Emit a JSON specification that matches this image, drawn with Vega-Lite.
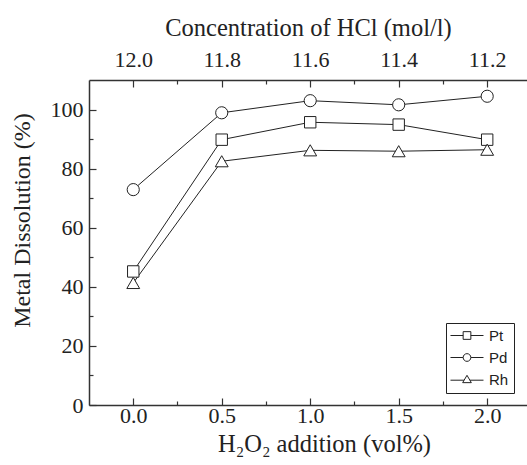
{
  "$schema": "https://vega.github.io/schema/vega-lite/v6.json",
  "width": 438,
  "height": 325,
  "autosize": {"type": "none"},
  "padding": {"left": 89, "top": 80, "right": 0, "bottom": 60},
  "background": "white",
  "config": {
    "view": {"stroke": null},
    "axis": {
      "labelFont": "Liberation Serif",
      "titleFont": "Liberation Serif",
      "labelFontSize": 22,
      "titleFontSize": 24.5,
      "titleFontWeight": "normal",
      "labelColor": "#222",
      "titleColor": "#222",
      "domainColor": "#333",
      "domainWidth": 1.5,
      "tickColor": "#333",
      "tickWidth": 1.2,
      "grid": false
    }
  },
  "data": {
    "values": [
      {"x": 0.0, "y": 45.2, "s": "Pt"},
      {"x": 0.5, "y": 89.8, "s": "Pt"},
      {"x": 1.0, "y": 95.7, "s": "Pt"},
      {"x": 1.5, "y": 94.9, "s": "Pt"},
      {"x": 2.0, "y": 89.8, "s": "Pt"},
      {"x": 0.0, "y": 72.9, "s": "Pd"},
      {"x": 0.5, "y": 98.9, "s": "Pd"},
      {"x": 1.0, "y": 103.0, "s": "Pd"},
      {"x": 1.5, "y": 101.6, "s": "Pd"},
      {"x": 2.0, "y": 104.5, "s": "Pd"},
      {"x": 0.0, "y": 41.3, "s": "Rh"},
      {"x": 0.5, "y": 82.5, "s": "Rh"},
      {"x": 1.0, "y": 86.2, "s": "Rh"},
      {"x": 1.5, "y": 85.9, "s": "Rh"},
      {"x": 2.0, "y": 86.4, "s": "Rh"}
    ]
  },
  "encoding": {
    "y": {
      "field": "y",
      "type": "quantitative",
      "scale": {"domain": [0, 110], "nice": false, "zero": false},
      "axis": {
        "title": "Metal Dissolution (%)",
        "titleFontSize": 24,
        "values": [0, 10, 20, 30, 40, 50, 60, 70, 80, 90, 100],
        "labelExpr": "datum.value % 20 === 0 ? datum.label : ''",
        "tickSize": {"condition": {"test": "datum.value % 20 === 0", "value": -7}, "value": -4},
        "labelPadding": 13,
        "titlePadding": 16,
        "titleY": 140
      }
    }
  },
  "layer": [
    {
      "mark": {"type": "line", "color": "#222", "strokeWidth": 1},
      "encoding": {
        "x": {
          "field": "x",
          "type": "quantitative",
          "scale": {"domain": [-0.25, 2.225], "nice": false, "zero": false},
          "axis": {
            "orient": "bottom",
            "title": "H₂O₂ addition (vol%)",
            "values": [0, 0.25, 0.5, 0.75, 1, 1.25, 1.5, 1.75, 2],
            "labelExpr": "datum.value % 0.5 === 0 ? format(datum.value, '.1f') : ''",
            "tickSize": {"condition": {"test": "datum.value % 0.5 === 0", "value": -7}, "value": -4},
            "labelPadding": 7,
            "titlePadding": 6,
            "titleX": 235
          }
        },
        "detail": {"field": "s"}
      }
    },
    {
      "mark": {"type": "point", "filled": false, "fill": "white", "stroke": "#222", "strokeWidth": 1, "opacity": 1},
      "encoding": {
        "x": {
          "field": "x",
          "type": "quantitative",
          "axis": {
            "orient": "top",
            "title": "Concentration of HCl (mol/l)",
            "values": [0, 0.25, 0.5, 0.75, 1, 1.25, 1.5, 1.75, 2],
            "labelExpr": "datum.value % 0.5 === 0 ? format(12 - datum.value * 0.4, '.1f') : ''",
            "tickSize": {"condition": {"test": "datum.value % 0.5 === 0", "value": -7}, "value": -4},
            "labelPadding": 16,
            "titlePadding": 8
          }
        },
        "shape": {
          "field": "s",
          "type": "nominal",
          "scale": {"domain": ["Pt", "Pd", "Rh"], "range": ["square", "circle", "triangle-up"]},
          "legend": null
        },
        "size": {
          "field": "s",
          "type": "nominal",
          "scale": {"domain": ["Pt", "Pd", "Rh"], "range": [130, 165, 160]},
          "legend": null
        }
      }
    },
    {
      "mark": {"type": "point", "opacity": 0},
      "encoding": {
        "x": {"field": "x", "type": "quantitative", "axis": null},
        "shape": {
          "field": "s",
          "type": "nominal",
          "scale": {
            "domain": ["Pt", "Pd", "Rh"],
            "range": [
              "M-1.143,0H0.664M1.764,0H3.571M0.664,-0.55H1.764V0.55H0.664Z",
              "M-1.143,0H0.664M1.764,0H3.571M0.664,0A0.55,0.55 0 1,0 1.764,0A0.55,0.55 0 1,0 0.664,0Z",
              "M-1.143,0.1H0.8M1.627,0.1H3.571M1.214,-0.6L1.834,0.45L0.594,0.45Z"
            ]
          },
          "legend": {
            "title": null,
            "orient": "none",
            "legendX": 357,
            "legendY": 243,
            "padding": 5,
            "strokeColor": "#222",
            "fillColor": "white",
            "symbolSize": 196,
            "symbolFillColor": "white",
            "symbolStrokeColor": "#222",
            "symbolStrokeWidth": 1,
            "symbolOpacity": 1,
            "rowPadding": 6,
            "labelOffset": 23,
            "labelFont": "Liberation Sans",
            "labelFontSize": 15,
            "labelColor": "#222"
          }
        }
      }
    }
  ],
  "resolve": {"scale": {"shape": "independent", "size": "independent"}, "axis": {"x": "independent"}}
}
